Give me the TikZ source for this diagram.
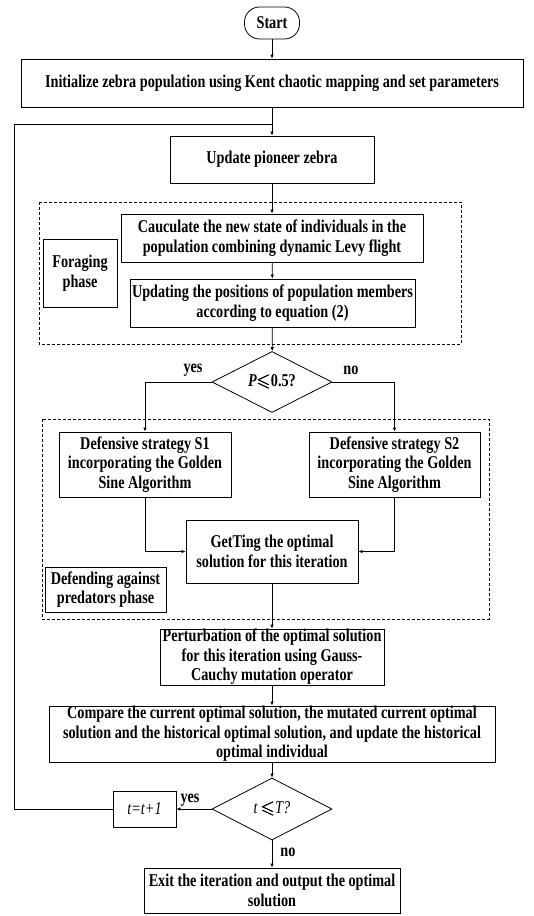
\documentclass[tikz,border=0pt]{standalone}
\usepackage{fontspec}
\usepackage{amsmath}
\usepackage{amssymb}
\setmainfont{Liberation Serif}[FakeStretch=0.79]
\usetikzlibrary{arrows.meta,shapes.geometric}
\begin{document}
\begin{tikzpicture}[x=1pt,y=-1pt,
  box/.style={draw, line width=0.8pt, align=center, inner sep=0pt, font=\fontsize{18}{19.5}\selectfont\bfseries},
  decbox/.style={draw, diamond, line width=0.8pt, inner sep=0pt, aspect=2, font=\fontsize{18}{19.5}\selectfont\bfseries},
  arr/.style={-{Latex[length=4pt,width=3.5pt]}, line width=0.8pt},
  ln/.style={line width=0.8pt},
  dbox/.style={draw, dashed, line width=0.6pt, dash pattern=on 3pt off 2pt},
  lbl/.style={font=\fontsize{18}{19.5}\selectfont\bfseries, inner sep=0pt}]
\useasboundingbox (0,0) rectangle (534,916);

\node[box, rounded corners=15pt, minimum width=55pt, minimum height=32pt] (start) at (272,23) {Start};
\node[box, minimum width=502pt, minimum height=48pt] (init) at (272,83) {Initialize zebra population using Kent chaotic mapping and set parameters};
\node[box, minimum width=204pt, minimum height=47pt] (upd) at (272,159.5) {Update pioneer zebra};

\draw[dbox] (39,202) rectangle (461,344);
\node[box, minimum width=302pt, minimum height=48pt] (calc) at (272,238) {Cauculate the new state of individuals in the\\population combining dynamic Levy flight};
\node[box, minimum width=74pt, minimum height=68pt] (forg) at (80,273) {Foraging\\phase};
\node[box, minimum width=285pt, minimum height=48pt] (upos) at (272.5,303) {Updating the positions of population members\\according to equation (2)};

\node[decbox, minimum width=120pt, minimum height=61pt] (dec1) at (272,382) {\textit{P}$\pmb{\leqslant}$0.5?};

\draw[dbox] (42,419) rectangle (489,619);
\node[box, minimum width=172pt, minimum height=65pt] (s1) at (145,464.5) {Defensive strategy S1\\incorporating the Golden\\Sine Algorithm};
\node[box, minimum width=171pt, minimum height=65pt] (s2) at (394.5,464.5) {Defensive strategy S2\\incorporating the Golden\\Sine Algorithm};
\node[box, minimum width=172pt, minimum height=63pt] (get) at (272,551.5) {GetTing the optimal\\solution for this iteration};
\node[box, minimum width=121pt, minimum height=45pt] (defl) at (105.5,589.5) {Defending against\\predators phase};

\node[box, minimum width=224pt, minimum height=56pt] (pert) at (272,657) {Perturbation of the optimal solution\\for this iteration using Gauss-\\Cauchy mutation operator};
\node[box, minimum width=446pt, minimum height=56pt] (comp) at (272,734) {Compare the current optimal solution, the mutated current optimal\\solution and the historical optimal solution, and update the historical\\optimal individual};

\node[decbox, minimum width=120pt, minimum height=62pt] (dec2) at (272,809) {\mdseries\itshape t $\pmb{\leqslant}$T?};
\node[box, minimum width=63pt, minimum height=36pt] (tinc) at (144.5,809) {\mdseries\itshape t=t+1};
\node[box, minimum width=256pt, minimum height=45pt] (exit) at (272,890.5) {Exit the iteration and output the optimal\\solution};

\coordinate (j1) at (272,124);
\coordinate (lp) at (14,124);

\draw[arr] (start) -- (init);
\draw[ln] (init) -- (j1);
\draw[arr] (tinc.west) -| (lp) -- (j1) -- (upd.north);
\draw[arr] (upd) -- (calc);
\draw[arr] (calc) -- (upos);
\draw[arr] (upos) -- (dec1);
\draw[arr] (dec1.west) -| (s1.north);
\draw[arr] (dec1.east) -| (s2.north);
\draw[arr] (s1.south) |- (get.west);
\draw[arr] (s2.south) |- (get.east);
\draw[arr] (get) -- (pert);
\draw[arr] (pert) -- (comp);
\draw[arr] (comp) -- (dec2);
\draw[arr] (dec2.west) -- (tinc.east);
\draw[arr] (dec2.south) -- (exit.north);

\node[lbl] (y1) at (193,370) {yes};
\node[lbl] (n1) at (351,370) {no};
\node[lbl] (y2) at (190,800) {yes};
\node[lbl] (n2) at (288,852) {no};
\end{tikzpicture}
\end{document}
